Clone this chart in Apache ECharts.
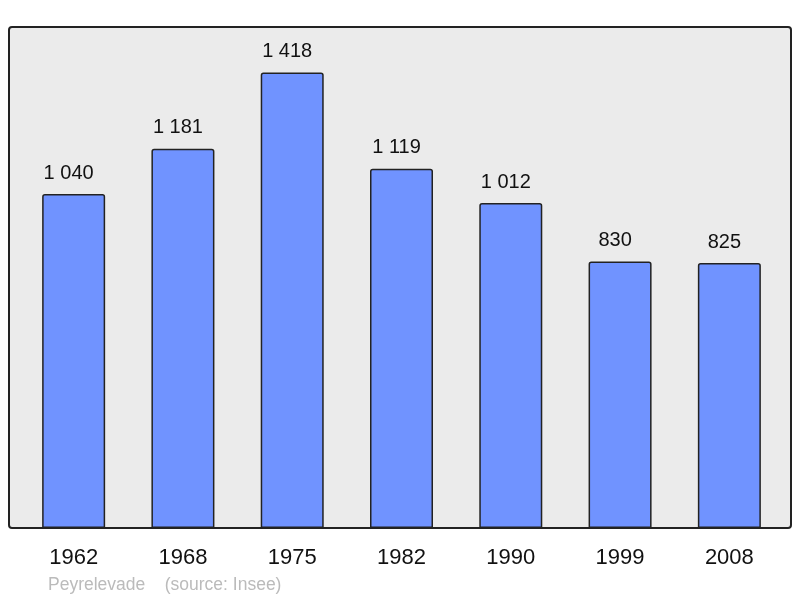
<!DOCTYPE html>
<html>
<head>
<meta charset="utf-8">
<script src="https://cdn.jsdelivr.net/npm/echarts@6/dist/echarts.min.js"></script>
<style>html,body{margin:0;padding:0;background:#fff}#c{width:800px;height:598px}</style>
</head>
<body>
<div id="c"></div>
<script>
const years = ['1962','1968','1975','1982','1990','1999','2008'];
const population = [1040, 1181, 1418, 1119, 1012, 830, 825];
const footerText = 'Peyrelevade    (source: Insee)';

function fmt(v){ return String(v).replace(/\B(?=(\d{3})+(?!\d))/g, ' '); }

const chart = echarts.init(document.getElementById('c'), null, {renderer:'canvas'});
chart.setOption({
  animation:false,
  backgroundColor:'#ffffff',
  graphic:[
    {type:'rect', z:-10, shape:{x:9,y:27,width:782,height:501,r:3},
     style:{fill:'#ebebeb', stroke:'#222222', lineWidth:2}},
    {type:'text', left:48, top:576, style:{text:footerText, fill:'#bbbbbb', font:'17.5px "Liberation Sans", Arial, sans-serif'}}
  ],
  grid:{left:19, right:16, top:27, bottom:70},
  xAxis:{type:'category', data:years,
    axisLine:{show:false}, axisTick:{show:false},
    axisLabel:{color:'#111', fontSize:22, fontFamily:'Liberation Sans, Arial, sans-serif', margin:19}},
  yAxis:{type:'value', min:0, max:1560, show:false, splitLine:{show:false}},
  series:[{
    type:'bar', data:population, barWidth:63,
    itemStyle:{color:'#7093ff', borderColor:'#222222', borderWidth:1.5, borderRadius:[2,2,0,0]},
    label:{show:true, position:'top', distance:11, offset:[-5,0], color:'#111', fontSize:20,
      fontFamily:'Liberation Sans, Arial, sans-serif', formatter:p=>fmt(p.value)}
  }]
});
</script>
</body>
</html>
